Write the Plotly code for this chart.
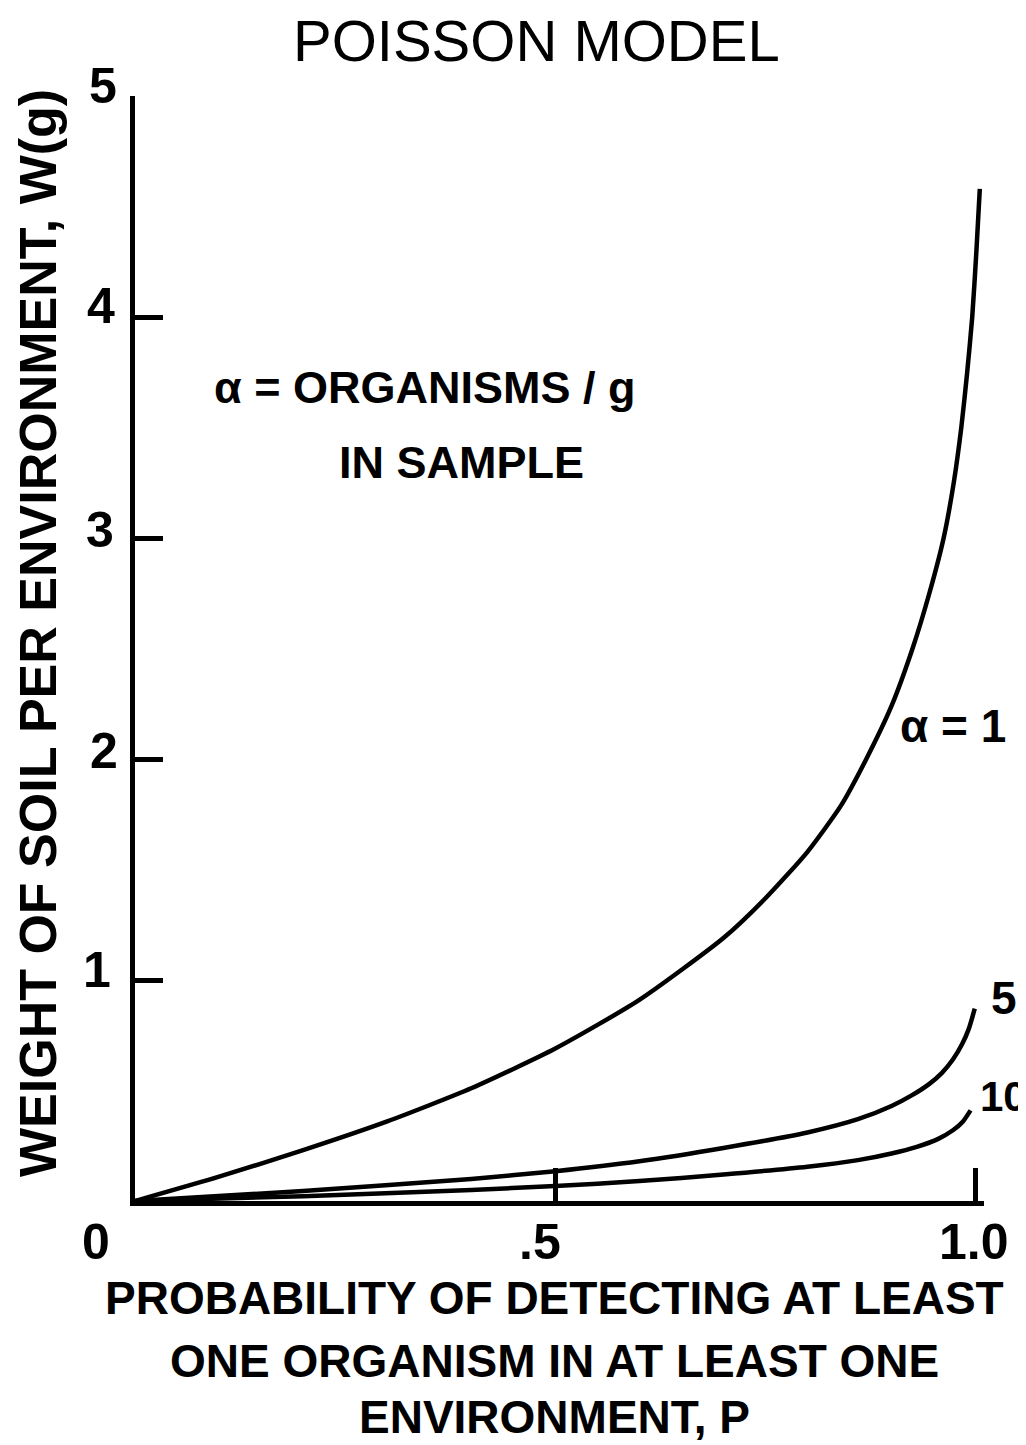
import plotly.graph_objects as go

# ---- data ----
p_a1 = [0, 0.1, 0.2, 0.3, 0.4, 0.5, 0.6, 0.7, 0.75, 0.8, 0.84, 0.87, 0.9, 0.925, 0.945,
        0.962, 0.974, 0.983, 0.990, 0.996, 1.001, 1.005]
w_a1 = [0, 0.11, 0.23, 0.36, 0.51, 0.69, 0.91, 1.19, 1.37, 1.58, 1.79, 2.00, 2.24, 2.50, 2.75,
        3.00, 3.25, 3.50, 3.75, 4.00, 4.30, 4.58]

p_a5 = [0, 0.2, 0.4, 0.5, 0.6, 0.7, 0.8, 0.86, 0.9, 0.925, 0.945, 0.96, 0.973, 0.984, 0.992, 0.999]
w_a5 = [0, 0.045, 0.10, 0.135, 0.18, 0.24, 0.31, 0.37, 0.43, 0.48, 0.53, 0.58, 0.64, 0.71, 0.78, 0.87]

p_a10 = [0, 0.2, 0.4, 0.5, 0.6, 0.7, 0.8, 0.86, 0.9, 0.93, 0.955, 0.973, 0.985, 0.994]
w_a10 = [0, 0.022, 0.05, 0.068, 0.09, 0.12, 0.155, 0.185, 0.215, 0.245, 0.28, 0.32, 0.36, 0.41]

curve_labels = ["α = 1", "5", "10"]
x_tick_text = ["0", ".5", "1.0"]
y_tick_vals = [1, 2, 3, 4, 5]
y_tick_text = ["1", "2", "3", "4", "5"]

title_text = "POISSON MODEL"
y_title = "WEIGHT OF SOIL PER ENVIRONMENT, W(g)"
x_title_lines = ["PROBABILITY OF DETECTING AT LEAST",
                 "ONE ORGANISM IN AT LEAST ONE",
                 "ENVIRONMENT, P"]
note_lines = ["α = ORGANISMS / g", "IN SAMPLE"]

# ---- layout geometry (pixels) ----
W_PX, H_PX = 1026, 1445
L, R = 127, 976
T, B = 88, 1193
FONT = "Liberation Sans, Arial, sans-serif"
LW = 4.5
DY = -8  # caps-centre correction for annotation boxes

def px(x):
    return (x - L) / (R - L)

def py(y):
    return (B - y) / (B - T)

fig = go.Figure()
for p, w in [(p_a1, w_a1), (p_a5, w_a5), (p_a10, w_a10)]:
    fig.add_trace(go.Scatter(x=p, y=w, mode="lines",
                             line=dict(color="black", width=LW, shape="spline", smoothing=0.6),
                             hoverinfo="skip", showlegend=False))

ann = []
def text(s, x, y, size, bold=False, angle=0, dy=DY):
    ann.append(dict(text=(f"<b>{s}</b>" if bold else s), x=px(x), y=py(y + dy), xref="paper", yref="paper",
                    showarrow=False, xanchor="center", yanchor="middle", textangle=angle,
                    font=dict(family=FONT, size=size, color="black")))

text(title_text, 528, 41, 58)
text(y_title, 30, 625, 52, bold=True, angle=-90, dy=0)
for s, y in zip(x_title_lines, [1298, 1361, 1417]):
    text(s, 546, y, 46, bold=True)
text(note_lines[0], 416, 388, 45, bold=True)
text(note_lines[1], 453, 462, 45, bold=True)

# tick labels
x_label_px = [88, 532, 966]
for s, x in zip(x_tick_text, x_label_px):
    text(s, x, 1242, 50, bold=True)
y_label_px = [970, 751, 530, 306, 86]
y_label_x = [89, 96, 92, 93, 95]
for s, x, y in zip(y_tick_text, y_label_x, y_label_px):
    text(s, x, y, 50, bold=True)

# curve labels
text(curve_labels[0], 945, 726, 46, bold=True)
text(curve_labels[1], 996, 998, 46, bold=True)
text(curve_labels[2], 995, 1096, 42, bold=True)

fig.update_layout(
    width=W_PX, height=H_PX,
    margin=dict(l=L, r=W_PX - R, t=T, b=H_PX - B),
    paper_bgcolor="white", plot_bgcolor="white",
    annotations=ann,
    xaxis=dict(range=[0, 1.01], showgrid=False, zeroline=False, showline=True, linecolor="black", linewidth=LW,
               ticks="inside", tickvals=[0.5, 1.0], ticklen=33, tickwidth=LW, tickcolor="black",
               showticklabels=False, fixedrange=True),
    yaxis=dict(range=[0, 5], showgrid=False, zeroline=False, showline=True, linecolor="black", linewidth=LW,
               ticks="inside", tickvals=y_tick_vals, ticklen=28, tickwidth=LW, tickcolor="black",
               showticklabels=False, fixedrange=True),
)

fig.write_html("out.html")
